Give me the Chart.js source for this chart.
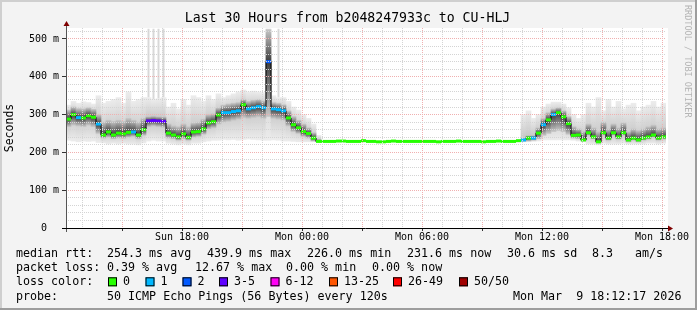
<!DOCTYPE html>
<html>
<head>
<meta charset="utf-8">
<script src="https://cdn.jsdelivr.net/npm/chart.js@4.4.1/dist/chart.umd.min.js"></script>
<style>
  html, body { margin: 0; padding: 0; background: #f3f3f3; }
  #wrap { width: 697px; height: 310px; }
</style>
</head>
<body>
<div id="wrap"><canvas id="smoke" width="697" height="310"></canvas></div>
<script>
// one sample every 15 minutes, 30 hours from Sun 12:12 to Mon 18:12
const STEP_H = 0.25
const START_CLOCK = 12.2

const titleText = 'Last 30 Hours from b2048247933c to CU-HLJ'
const xLabelHours = [5.8, 11.8, 17.8, 23.8, 29.8]
const xLabels = ['Sun 18:00', 'Mon 00:00', 'Mon 06:00', 'Mon 12:00', 'Mon 18:00']
const yLabelValues = [0, 100, 200, 300, 400, 500]
const yLabels = ['0  ', '100 m', '200 m', '300 m', '400 m', '500 m']

const lossColors = ['#26ff00', '#00b8ff', '#0059ff', '#5e00ff', '#ff00f5', '#ff5500', '#ff0000', '#a00000']
const lossLabels = ['0', '1', '2', '3-5', '6-12', '13-25', '26-49', '50/50']

// median rtt (ms)
const medianMs = [
  288, 300, 292, 291, 297, 293, 275, 246, 254, 246,
  251, 249, 253, 254, 246, 260, 283, 284, 283, 282,
  251, 246, 241, 249, 240, 254, 255, 262, 278, 281,
  299, 305, 305, 308, 310, 326, 315, 318, 321, 318,
  440, 315, 313, 310, 291, 273, 265, 255, 250, 238,
  229, 229, 229, 229, 230, 230, 229, 229, 229, 231,
  229, 229, 228, 228, 229, 230, 229, 229, 229, 229,
  229, 229, 229, 229, 228, 229, 229, 229, 230, 229,
  229, 229, 229, 228, 229, 229, 230, 229, 229, 229,
  231, 233, 238, 238, 251, 273, 286, 300, 305, 294,
  276, 245, 246, 233, 252, 241, 228, 252, 238, 252,
  241, 252, 233, 238, 233, 238, 241, 246, 238, 241
]

// loss bucket (index into lossColors)
const lossIdx = [
  0, 0, 1, 0, 0, 0, 1, 0, 0, 0,
  0, 0, 0, 1, 0, 0, 3, 3, 3, 3,
  0, 0, 0, 0, 0, 0, 0, 0, 0, 0,
  0, 1, 1, 1, 1, 0, 1, 1, 1, 1,
  2, 1, 1, 1, 0, 0, 0, 0, 0, 0,
  0, 0, 0, 0, 0, 0, 0, 0, 0, 0,
  0, 0, 0, 0, 0, 0, 0, 0, 0, 0,
  0, 0, 0, 0, 0, 0, 0, 0, 0, 0,
  0, 0, 0, 0, 0, 0, 0, 0, 0, 0,
  0, 1, 0, 1, 0, 1, 0, 1, 0, 0,
  0, 0, 0, 0, 0, 0, 0, 0, 0, 0,
  0, 0, 0, 0, 0, 0, 0, 0, 0, 0
]

// outer smoke (fastest / slowest pings)
const smokeHi = [
  325, 335, 330, 334, 332, 328, 350, 330, 335, 340,
  345, 330, 360, 335, 340, 345, 345, 340, 342, 345,
  320, 330, 315, 340, 325, 350, 345, 335, 350, 340,
  355, 345, 350, 355, 360, 365, 360, 362, 360, 358,
  527, 350, 345, 345, 335, 320, 312, 300, 290, 275,
  245, null, null, null, null, null, null, null, null, null,
  null, null, null, null, null, null, null, null, null, null,
  null, null, null, null, null, null, null, null, null, null,
  null, null, null, null, null, null, null, null, null, null,
  null, 300, 310, 290, 300, 320, 328, 333, 333, 328,
  318, 300, 290, 300, 330, 320, 345, 310, 340, 320,
  335, 315, 325, 330, 310, 320, 325, 335, 320, 330
]
const smokeLo = [
  232, 230, 228, 230, 229, 230, 226, 225, 222, 224,
  222, 224, 222, 222, 220, 225, 230, 232, 230, 230,
  224, 222, 220, 222, 220, 224, 224, 228, 230, 232,
  232, 234, 233, 234, 232, 234, 235, 234, 233, 232,
  232, 233, 232, 230, 230, 229, 228, 228, 228, 228,
  228, null, null, null, null, null, null, null, null, null,
  null, null, null, null, null, null, null, null, null, null,
  null, null, null, null, null, null, null, null, null, null,
  null, null, null, null, null, null, null, null, null, null,
  null, 228, 228, 229, 230, 233, 233, 233, 233, 233,
  233, 232, 230, 228, 222, 222, 220, 224, 222, 222,
  222, 224, 222, 222, 222, 222, 224, 224, 222, 224
]

// single slow pings that reach far above the smoke
const streakHi = [
  null, null, null, null, null, null, null, null, null, null,
  null, null, null, null, null, null, 527, 527, 527, 527,
  null, null, null, null, null, null, null, null, null, null,
  null, null, null, null, null, null, null, null, null, null,
  null, null, 527, null, null, null, null, null, null, null,
  null, null, null, null, null, null, null, null, null, null,
  null, null, null, null, null, null, null, null, null, null,
  null, null, null, null, null, null, null, null, null, null,
  null, null, null, null, null, null, null, null, null, null,
  null, null, null, null, null, null, null, null, null, null,
  null, null, null, null, null, null, null, null, null, null,
  null, null, null, null, null, null, null, null, null, null
]

// dense part of the smoke around the median
const coreHi = [
  312, 320, 316, 315, 318, 314, 300, 280, 285, 282,
  285, 282, 290, 285, 280, 290, 295, 296, 295, 294,
  275, 270, 268, 275, 268, 278, 280, 288, 300, 302,
  318, 325, 328, 330, 332, 340, 335, 338, 340, 336,
  525, 332, 330, 326, 310, 295, 285, 275, 265, 252,
  235, null, null, null, null, null, null, null, null, null,
  null, null, null, null, null, null, null, null, null, null,
  null, null, null, null, null, null, null, null, null, null,
  null, null, null, null, null, null, null, null, null, null,
  null, 235, 245, 245, 265, 290, 305, 315, 318, 310,
  295, 268, 262, 255, 275, 265, 255, 280, 262, 275,
  265, 278, 255, 262, 258, 262, 268, 272, 262, 265
]
const coreLo = [
  268, 272, 270, 268, 272, 268, 250, 238, 240, 236,
  238, 237, 240, 242, 236, 245, 268, 270, 268, 266,
  238, 236, 232, 236, 232, 240, 242, 248, 262, 265,
  275, 280, 282, 285, 288, 292, 290, 292, 294, 290,
  295, 290, 288, 285, 270, 255, 250, 242, 238, 230,
  228, null, null, null, null, null, null, null, null, null,
  null, null, null, null, null, null, null, null, null, null,
  null, null, null, null, null, null, null, null, null, null,
  null, null, null, null, null, null, null, null, null, null,
  null, 229, 230, 232, 236, 245, 250, 255, 258, 255,
  248, 238, 236, 230, 245, 236, 225, 245, 232, 245,
  235, 245, 228, 232, 228, 232, 235, 240, 232, 235
]

const rttStats = ['254.3 ms avg', '439.9 ms max', '226.0 ms min', '231.6 ms now', '30.6 ms sd', '8.3', 'am/s']
const lossStats = ['0.39 % avg', '12.67 % max', '0.00 % min', '0.00 % now']
const probeText = '50 ICMP Echo Pings (56 Bytes) every 120s'
const stampText = 'Mon Mar  9 18:12:17 2026'

const sampleX = i => i * STEP_H + STEP_H / 2
const sampleOf = x => Math.round((x - STEP_H / 2) / STEP_H)
const points = arr => arr.map((v, i) => ({ x: sampleX(i), y: v }))
const band = (lo, hi) => lo.map((v, i) => (v == null || hi[i] == null ? null : { x: sampleX(i), y: [v, hi[i]] })).filter(Boolean)

const hourTicks = Array.from({ length: 30 }, (_, k) => 0.8 + k)
const yTicks = Array.from({ length: 27 }, (_, k) => k * 20)

const MONO = '"DejaVu Sans Mono", monospace'
Chart.defaults.font.family = MONO

// smoke gets darker towards the median, like the stacked ping shades
function smokeShade(edge, middle) {
  return c => {
    if (c.type !== 'data' || !c.raw || !c.chart.scales.y) return middle
    const { chart, raw } = c
    const y = chart.scales.y
    const top = y.getPixelForValue(raw.y[1])
    const bottom = y.getPixelForValue(raw.y[0])
    const mid = y.getPixelForValue(medianMs[sampleOf(raw.x)])
    if (![top, bottom, mid].every(Number.isFinite) || bottom - top < 1) return middle
    const pos = Math.min(1, Math.max(0, (mid - top) / (bottom - top)))
    const g = chart.ctx.createLinearGradient(0, top, 0, bottom)
    g.addColorStop(0, edge)
    g.addColorStop(pos, middle)
    g.addColorStop(1, edge)
    return g
  }
}

const chrome = {
  id: 'chrome',
  beforeDraw(chart) {
    const { ctx, chartArea: a, width: W, height: H } = chart
    ctx.save()
    ctx.fillStyle = '#f3f3f3'
    ctx.fillRect(0, 0, W, H)
    ctx.fillStyle = '#cfcfcf'
    ctx.fillRect(0, 0, W, 2)
    ctx.fillRect(0, 0, 2, H)
    ctx.fillStyle = '#9d9d9d'
    ctx.fillRect(0, H - 2, W, 2)
    ctx.fillRect(W - 2, 0, 2, H)
    ctx.fillStyle = '#ffffff'
    ctx.fillRect(a.left, a.top, a.right - a.left + 2, a.bottom - a.top)
    ctx.restore()
  },
  afterDraw(chart) {
    const { ctx, chartArea: a } = chart
    ctx.save()
    // axes with arrows
    ctx.lineWidth = 1
    ctx.strokeStyle = '#555555'
    ctx.beginPath()
    ctx.moveTo(a.left + 0.5, a.bottom + 4)
    ctx.lineTo(a.left + 0.5, a.top - 3)
    ctx.stroke()
    ctx.strokeStyle = '#000000'
    ctx.beginPath()
    ctx.moveTo(a.left - 4, a.bottom + 0.5)
    ctx.lineTo(a.right + 3, a.bottom + 0.5)
    ctx.stroke()
    ctx.fillStyle = '#7f0000'
    ctx.beginPath()
    ctx.moveTo(a.left + 0.5, a.top - 7)
    ctx.lineTo(a.left - 2.5, a.top - 2)
    ctx.lineTo(a.left + 3.5, a.top - 2)
    ctx.closePath()
    ctx.fill()
    ctx.beginPath()
    ctx.moveTo(a.right + 7, a.bottom + 0.5)
    ctx.lineTo(a.right + 2, a.bottom - 2.5)
    ctx.lineTo(a.right + 2, a.bottom + 3.5)
    ctx.closePath()
    ctx.fill()

    ctx.fillStyle = '#000000'
    ctx.textBaseline = 'middle'
    // title
    ctx.font = '13.2px ' + MONO
    ctx.textAlign = 'center'
    ctx.fillText(titleText, 347.5, 19)

    // y title
    ctx.save()
    ctx.font = '11.5px ' + MONO
    ctx.translate(10.5, (a.top + a.bottom) / 2)
    ctx.rotate(-Math.PI / 2)
    ctx.fillText('Seconds', 0, 0)
    ctx.restore()

    // watermark
    ctx.save()
    ctx.font = '8.5px ' + MONO
    ctx.fillStyle = '#b4b4b4'
    ctx.textAlign = 'left'
    ctx.translate(687.5, 5)
    ctx.rotate(Math.PI / 2)
    ctx.fillText('RRDTOOL / TOBI OETIKER', 0, 0)
    ctx.restore()

    // legend block
    ctx.font = '11.67px ' + MONO
    ctx.textAlign = 'left'
    const rows = [254, 268.3, 282.3, 296.7]
    ;['median rtt:', 'packet loss:', 'loss color:', 'probe:'].forEach((t, i) => ctx.fillText(t, 16, rows[i]))
    const rttX = [107, 207, 307, 407, 507, 592, 635]
    rttStats.forEach((t, i) => ctx.fillText(t, rttX[i], rows[0]))
    const lossX = [107, 195, 286, 372]
    lossStats.forEach((t, i) => ctx.fillText(t, lossX[i], rows[1]))
    const boxX = [108, 145.5, 182.5, 219, 270.5, 329, 393, 459]
    lossLabels.forEach((t, i) => {
      ctx.fillStyle = lossColors[i]
      ctx.fillRect(boxX[i], rows[2] - 5, 9, 9)
      ctx.strokeStyle = '#000000'
      ctx.strokeRect(boxX[i] + 0.5, rows[2] - 4.5, 8, 8)
      ctx.fillStyle = '#000000'
      ctx.fillText(t, boxX[i] + 15, rows[2])
    })
    ctx.fillText(probeText, 107, rows[3])
    ctx.fillText(stampText, 513, rows[3])
    ctx.restore()
  }
}

const clockOf = v => Math.round(START_CLOCK + v) % 24
const smokeBar = { type: 'bar', borderWidth: 0, grouped: false, barPercentage: 1, categoryPercentage: 1 }

new Chart(document.getElementById('smoke'), {
  type: 'line',
  data: {
    datasets: [
      { ...smokeBar, data: band(smokeHi, streakHi), backgroundColor: '#d8d8d8', barPercentage: 0.4, order: 5 },
      { ...smokeBar, data: band(smokeLo, smokeHi), backgroundColor: smokeShade('#ececec', '#c4c4c4'), order: 4 },
      { ...smokeBar, data: band(coreLo, coreHi), backgroundColor: smokeShade('#c6c6c6', '#3c3c3c'), order: 3 },
      {
        data: points(medianMs),
        borderColor: '#000000',
        borderWidth: 1,
        stepped: 'middle',
        pointRadius: 0,
        order: 2
      },
      {
        data: points(medianMs),
        showLine: false,
        pointStyle: 'line',
        pointRadius: 2.5,
        pointBorderWidth: 3,
        pointBorderColor: lossIdx.map(l => lossColors[l]),
        pointBackgroundColor: lossIdx.map(l => lossColors[l]),
        order: 1
      }
    ]
  },
  options: {
    responsive: false,
    animation: false,
    events: [],
    devicePixelRatio: 1,
    layout: { padding: { left: 0, top: 28, right: 31, bottom: 62 } },
    plugins: {
      legend: { display: false },
      tooltip: { enabled: false },
      title: { display: false }
    },
    scales: {
      x: {
        type: 'linear',
        min: 0,
        max: 30,
        offset: false,
        grid: {
          offset: false,
          z: 1,
          lineWidth: 1,
          color: c => (clockOf(c.tick.value) % 3 === 0 ? '#f0b0b0' : '#d4d4d4'),
          tickColor: c => (clockOf(c.tick.value) % 3 === 0 ? '#333333' : 'rgba(0,0,0,0)'),
          tickLength: 3
        },
        border: { display: false, dash: [1, 1] },
        ticks: {
          autoSkip: false,
          maxRotation: 0,
          minRotation: 0,
          padding: 0,
          color: '#000000',
          font: { size: 10 },
          callback: v => {
            const k = xLabelHours.findIndex(h => Math.abs(h - v) < 0.01)
            return k < 0 ? '' : xLabels[k]
          }
        },
        afterBuildTicks: s => { s.ticks = hourTicks.map(v => ({ value: v })) },
        afterFit: s => { s.height = 20 }
      },
      y: {
        type: 'linear',
        min: 0,
        max: 529,
        grid: {
          z: 1,
          lineWidth: 1,
          color: c => (c.tick.value === 0 ? 'rgba(0,0,0,0)' : c.tick.value % 100 === 0 ? '#f0b0b0' : '#d4d4d4'),
          tickColor: c => (c.tick.value % 100 === 0 ? '#333333' : 'rgba(0,0,0,0)'),
          tickLength: 4
        },
        border: { display: false, dash: [1, 1] },
        ticks: {
          autoSkip: false,
          padding: 3,
          color: '#000000',
          font: { size: 10 },
          callback: v => {
            const k = yLabelValues.indexOf(v)
            return k < 0 ? '' : yLabels[k]
          }
        },
        afterBuildTicks: s => { s.ticks = yTicks.map(v => ({ value: v })) },
        afterFit: s => { s.width = 66 }
      }
    }
  },
  plugins: [chrome]
})
</script>
</body>
</html>
